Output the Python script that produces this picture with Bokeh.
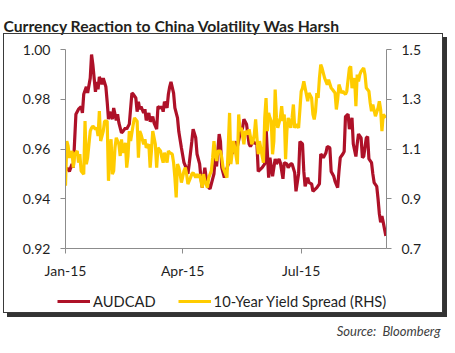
import pandas as pd
from bokeh.plotting import figure
from bokeh.layouts import column
from bokeh.models import (Range1d, LinearAxis, FixedTicker, NumeralTickFormatter,
                          DatetimeTickFormatter, Legend, LegendItem, Title, Label,
                          InlineStyleSheet)
from bokeh.embed import file_html
from bokeh.resources import INLINE

# ---------------- data ----------------
audcad_dates = [
    "2015-01-02", "2015-01-04", "2015-01-06", "2015-01-07", "2015-01-09", "2015-01-11", "2015-01-13",
    "2015-01-14", "2015-01-15", "2015-01-17", "2015-01-18", "2015-01-20", "2015-01-21", "2015-01-22",
    "2015-01-24", "2015-01-25", "2015-01-26", "2015-01-27", "2015-01-29", "2015-01-30", "2015-02-01",
    "2015-02-02", "2015-02-03", "2015-02-04", "2015-02-06", "2015-02-07", "2015-02-09", "2015-02-10",
    "2015-02-11", "2015-02-13", "2015-02-14", "2015-02-16", "2015-02-17", "2015-02-19", "2015-02-21",
    "2015-02-22", "2015-02-24", "2015-02-25", "2015-02-26", "2015-02-27", "2015-02-28", "2015-03-02",
    "2015-03-03", "2015-03-04", "2015-03-06", "2015-03-07", "2015-03-09", "2015-03-10", "2015-03-12",
    "2015-03-13", "2015-03-15", "2015-03-16", "2015-03-17", "2015-03-18", "2015-03-20", "2015-03-21",
    "2015-03-22", "2015-03-23", "2015-03-25", "2015-03-26", "2015-03-28", "2015-03-29", "2015-03-31",
    "2015-04-02", "2015-04-04", "2015-04-05", "2015-04-06", "2015-04-08", "2015-04-09", "2015-04-11",
    "2015-04-12", "2015-04-14", "2015-04-15", "2015-04-16", "2015-04-18", "2015-04-19", "2015-04-21",
    "2015-04-22", "2015-04-23", "2015-04-25", "2015-04-26", "2015-04-27", "2015-04-29", "2015-04-30",
    "2015-05-01", "2015-05-03", "2015-05-06", "2015-05-07", "2015-05-09", "2015-05-11", "2015-05-13",
    "2015-05-15", "2015-05-17", "2015-05-18", "2015-05-20", "2015-05-22", "2015-05-23", "2015-05-25",
    "2015-05-26", "2015-05-28", "2015-05-29", "2015-05-31", "2015-06-01", "2015-06-03", "2015-06-04",
    "2015-06-06", "2015-06-07", "2015-06-09", "2015-06-11", "2015-06-12", "2015-06-14", "2015-06-15",
    "2015-06-17", "2015-06-18", "2015-06-20", "2015-06-21", "2015-06-23", "2015-06-24", "2015-06-26",
    "2015-06-27", "2015-06-29", "2015-06-30", "2015-07-02", "2015-07-03", "2015-07-04", "2015-07-06",
    "2015-07-07", "2015-07-09", "2015-07-10", "2015-07-12", "2015-07-13", "2015-07-15", "2015-07-16",
    "2015-07-18", "2015-07-20", "2015-07-21", "2015-07-23", "2015-07-24", "2015-07-26", "2015-07-27",
    "2015-07-29", "2015-07-30", "2015-07-31", "2015-08-02", "2015-08-03", "2015-08-04", "2015-08-06",
    "2015-08-07", "2015-08-09", "2015-08-10", "2015-08-12", "2015-08-13", "2015-08-14", "2015-08-16",
    "2015-08-17", "2015-08-18", "2015-08-20", "2015-08-21", "2015-08-22", "2015-08-24", "2015-08-25",
    "2015-08-26", "2015-08-28", "2015-08-29", "2015-08-30", "2015-08-31", "2015-09-01", "2015-09-02",
    "2015-09-04",
]
audcad = [
    0.9525, 0.951, 0.954, 0.9525, 0.974, 0.976, 0.977,
    0.9745, 0.982, 0.985, 0.9825, 0.9885, 0.998, 0.994,
    0.983, 0.987, 0.984, 0.989, 0.986, 0.9885, 0.985,
    0.979, 0.972, 0.975, 0.972, 0.9765, 0.9715, 0.974,
    0.9705, 0.9665, 0.967, 0.9685, 0.968, 0.970, 0.9825,
    0.982, 0.9805, 0.975, 0.979, 0.976, 0.977, 0.9745,
    0.976, 0.9715, 0.9745, 0.971, 0.973, 0.9705, 0.968,
    0.977, 0.9765, 0.977, 0.975, 0.979, 0.9765, 0.982,
    0.985, 0.987, 0.9825, 0.9765, 0.9725, 0.967, 0.9605,
    0.9545, 0.952, 0.950, 0.954, 0.963, 0.968, 0.9645,
    0.958, 0.954, 0.9485, 0.9445, 0.9525, 0.9485, 0.9445,
    0.944, 0.946, 0.950, 0.9565, 0.953, 0.966, 0.963,
    0.9525, 0.9485, 0.954, 0.9605, 0.958, 0.963, 0.961,
    0.966, 0.9685, 0.972, 0.970, 0.962, 0.961, 0.963,
    0.9625, 0.962, 0.951, 0.952, 0.9525, 0.954, 0.969,
    0.9485, 0.9565, 0.949, 0.956, 0.954, 0.956, 0.9545,
    0.948, 0.9545, 0.954, 0.9525, 0.954, 0.954, 0.9505,
    0.943, 0.950, 0.963, 0.962, 0.951, 0.945, 0.9485,
    0.9465, 0.946, 0.943, 0.944, 0.9445, 0.946, 0.958,
    0.9565, 0.9585, 0.961, 0.9605, 0.951, 0.949, 0.947,
    0.9445, 0.951, 0.9565, 0.958, 0.959, 0.973, 0.974,
    0.968, 0.9725, 0.962, 0.957, 0.962, 0.966, 0.9645,
    0.9565, 0.957, 0.9645, 0.965, 0.956, 0.9545, 0.950,
    0.9465, 0.945, 0.940, 0.934, 0.9305, 0.933, 0.9305,
    0.925,
]

spread_dates = [
    "2015-01-01", "2015-01-02", "2015-01-03", "2015-01-04", "2015-01-06", "2015-01-07", "2015-01-08",
    "2015-01-10", "2015-01-11", "2015-01-12", "2015-01-13", "2015-01-15", "2015-01-16", "2015-01-17",
    "2015-01-18", "2015-01-19", "2015-01-20", "2015-01-21", "2015-01-22", "2015-01-24", "2015-01-25",
    "2015-01-26", "2015-01-27", "2015-01-28", "2015-01-30", "2015-01-31", "2015-02-02", "2015-02-03",
    "2015-02-04", "2015-02-05", "2015-02-06", "2015-02-07", "2015-02-08", "2015-02-09", "2015-02-11",
    "2015-02-12", "2015-02-13", "2015-02-14", "2015-02-16", "2015-02-17", "2015-02-18", "2015-02-19",
    "2015-02-20", "2015-02-22", "2015-02-23", "2015-02-25", "2015-02-26", "2015-02-27", "2015-02-28",
    "2015-03-02", "2015-03-03", "2015-03-04", "2015-03-06", "2015-03-07", "2015-03-08", "2015-03-09",
    "2015-03-11", "2015-03-12", "2015-03-13", "2015-03-15", "2015-03-16", "2015-03-17", "2015-03-18",
    "2015-03-20", "2015-03-21", "2015-03-22", "2015-03-24", "2015-03-25", "2015-03-26", "2015-03-27",
    "2015-03-28", "2015-03-29", "2015-03-30", "2015-03-31", "2015-04-02", "2015-04-03", "2015-04-04",
    "2015-04-05", "2015-04-07", "2015-04-08", "2015-04-09", "2015-04-11", "2015-04-12", "2015-04-13",
    "2015-04-14", "2015-04-16", "2015-04-17", "2015-04-18", "2015-04-20", "2015-04-21", "2015-04-23",
    "2015-04-24", "2015-04-25", "2015-04-26", "2015-04-27", "2015-04-28", "2015-04-30", "2015-05-01",
    "2015-05-02", "2015-05-05", "2015-05-07", "2015-05-08", "2015-05-10", "2015-05-11", "2015-05-13",
    "2015-05-14", "2015-05-15", "2015-05-16", "2015-05-18", "2015-05-19", "2015-05-21", "2015-05-22",
    "2015-05-24", "2015-05-25", "2015-05-26", "2015-05-27", "2015-05-28", "2015-05-29", "2015-05-30",
    "2015-06-01", "2015-06-02", "2015-06-03", "2015-06-04", "2015-06-05", "2015-06-06", "2015-06-07",
    "2015-06-08", "2015-06-09", "2015-06-10", "2015-06-11", "2015-06-12", "2015-06-13", "2015-06-15",
    "2015-06-16", "2015-06-17", "2015-06-18", "2015-06-19", "2015-06-20", "2015-06-21", "2015-06-23",
    "2015-06-24", "2015-06-25", "2015-06-26", "2015-06-27", "2015-06-29", "2015-07-01", "2015-07-02",
    "2015-07-03", "2015-07-04", "2015-07-06", "2015-07-07", "2015-07-09", "2015-07-10", "2015-07-11",
    "2015-07-12", "2015-07-13", "2015-07-14", "2015-07-15", "2015-07-16", "2015-07-17", "2015-07-19",
    "2015-07-20", "2015-07-21", "2015-07-22", "2015-07-24", "2015-07-25", "2015-07-27", "2015-07-28",
    "2015-07-29", "2015-07-30", "2015-08-01", "2015-08-02", "2015-08-04", "2015-08-05", "2015-08-07",
    "2015-08-08", "2015-08-09", "2015-08-11", "2015-08-12", "2015-08-13", "2015-08-14", "2015-08-15",
    "2015-08-16", "2015-08-17", "2015-08-18", "2015-08-19", "2015-08-20", "2015-08-22", "2015-08-23",
    "2015-08-24", "2015-08-25", "2015-08-27", "2015-08-29", "2015-08-30", "2015-08-31", "2015-09-01",
    "2015-09-02", "2015-09-04",
]
spread = [
    0.952, 1.132, 1.112, 1.065, 1.092, 1.025, 1.079,
    1.092, 1.045, 1.079, 1.012, 0.999, 1.212, 1.039,
    1.065, 1.119, 1.172, 1.185, 1.192, 1.179, 1.185,
    1.152, 1.252, 1.132, 1.172, 1.212, 1.212, 0.972,
    1.092, 1.139, 0.999, 1.012, 1.105, 1.145, 1.119,
    1.072, 1.139, 1.085, 1.125, 1.025, 1.072, 1.172,
    1.132, 1.199, 1.225, 1.212, 1.065, 1.172, 1.159,
    1.119, 1.139, 1.105, 1.119, 1.025, 1.092, 1.172,
    1.119, 1.025, 1.105, 1.092, 1.065, 1.045, 1.085,
    1.045, 1.092, 1.085, 1.079, 1.045, 0.985, 0.905,
    1.039, 1.025, 0.999, 0.965, 1.012, 1.025, 0.999,
    0.959, 0.985, 0.999, 1.005, 0.985, 0.999, 0.985,
    0.999, 0.945, 0.999, 0.972, 0.945, 0.985, 1.012,
    1.065, 1.132, 1.079, 1.052, 1.092, 1.092, 1.065,
    1.025, 0.985, 1.245, 1.039, 1.132, 1.105, 1.039,
    1.239, 1.172, 1.185, 1.119, 1.172, 1.159, 1.179,
    1.119, 1.132, 1.159, 1.219, 1.145, 1.079, 1.132,
    1.072, 1.045, 1.225, 1.305, 1.172, 1.245, 1.225,
    1.212, 1.079, 1.132, 1.339, 1.225, 1.185, 1.225,
    1.272, 1.212, 1.239, 1.059, 1.172, 1.225, 1.185,
    1.225, 1.279, 1.185, 1.199, 1.185, 1.332, 1.345,
    1.372, 1.345, 1.292, 1.325, 1.305, 1.239, 1.219,
    1.252, 1.325, 1.305, 1.385, 1.439, 1.425, 1.385,
    1.372, 1.359, 1.379, 1.345, 1.339, 1.325, 1.259,
    1.299, 1.359, 1.325, 1.332, 1.319, 1.332, 1.425,
    1.432, 1.345, 1.385, 1.272, 1.399, 1.372, 1.399,
    1.412, 1.419, 1.425, 1.399, 1.345, 1.332, 1.285,
    1.252, 1.279, 1.232, 1.265, 1.292, 1.259, 1.172,
    1.239, 1.225,
]

left_ticks = [0.92, 0.94, 0.96, 0.98, 1.00]
right_ticks = [0.7, 0.9, 1.1, 1.3, 1.5]
x_tick_dates = ["2015-01-01", "2015-04-01", "2015-07-01"]

title_text = "Currency Reaction to China Volatility Was Harsh"
source_text = "Source:\u00a0 Bloomberg"
series_names = ["AUDCAD", "10-Year Yield Spread (RHS)"]

RED = "#AE1128"
YELLOW = "#FFCC00"
FONT = "Lato"
AX = "#8c8c8c"
TXT = "#1f1f1f"

# ---------------- main chart ----------------
W = 455
H_MAIN, H_FOOT = 290, 63
FL, FR, FT, FB = 65, 386, 48, 248   # frame edges (px) inside the main chart

x0 = pd.Timestamp("2015-01-01")
x1 = pd.Timestamp("2015-09-04 12:00")

fig = figure(width=W, height=H_MAIN, output_backend="svg", toolbar_location=None,
             x_axis_type="datetime",
             x_range=Range1d(x0, x1), y_range=Range1d(0.92, 1.00),
             min_border_left=FL, min_border_right=W - FR,
             min_border_top=FT, min_border_bottom=H_MAIN - FB)
fig.frame_align = False
fig.xgrid.visible = False
fig.ygrid.visible = False
fig.outline_line_color = None
fig.background_fill_color = "white"
fig.border_fill_color = "white"
fig.extra_y_ranges = {"rhs": Range1d(0.7, 1.5)}

def style_axis(ax):
    ax.axis_line_color = AX
    ax.major_tick_line_color = AX
    ax.minor_tick_line_color = None
    ax.major_tick_out = 5
    ax.major_tick_in = 0
    ax.major_label_text_font = FONT
    ax.major_label_text_font_size = "14px"
    ax.major_label_text_color = TXT
    ax.major_label_standoff = 10

yl = fig.yaxis[0]
yl.ticker = FixedTicker(ticks=left_ticks)
yl.formatter = NumeralTickFormatter(format="0.00")
style_axis(yl)

yr = LinearAxis(y_range_name="rhs", ticker=FixedTicker(ticks=right_ticks),
                formatter=NumeralTickFormatter(format="0.0"))
style_axis(yr)
fig.add_layout(yr, "right")

xa = fig.xaxis[0]
xa.ticker = FixedTicker(ticks=[pd.Timestamp(d).value // 10**6 for d in x_tick_dates])
fmt = "%b-%y"
xa.formatter = DatetimeTickFormatter(milliseconds=fmt, seconds=fmt, minsec=fmt, minutes=fmt,
                                     hourmin=fmt, hours=fmt, days=fmt, months=fmt, years=fmt)
style_axis(xa)
xa.major_label_standoff = 8

fig.title = Title(text=title_text, text_font=FONT, text_font_style="bold",
                  text_font_size="15.7px", text_color="#231f20", align="left",
                  offset=-62, standoff=29)

r_red = fig.line(pd.to_datetime(audcad_dates), audcad, line_color=RED, line_width=3.2)
r_yel = fig.line(pd.to_datetime(spread_dates), spread, y_range_name="rhs",
                 line_color=YELLOW, line_width=3.2)

# ---------------- footer: legend + source ----------------
foot = figure(width=W, height=H_FOOT, output_backend="svg", toolbar_location=None,
              x_axis_location=None, y_axis_location=None,
              min_border_left=0, min_border_right=0, min_border_top=0, min_border_bottom=0)
foot.frame_align = False
foot.xgrid.visible = False
foot.ygrid.visible = False
foot.outline_line_color = None
foot.background_fill_color = "white"
foot.border_fill_color = "white"

# legend keys (a single missing value each, so nothing is drawn in the footer itself)
nan = float("nan")
key_red = foot.line(x=[nan], y=[nan], line_color=RED, line_width=3.2)
key_yel = foot.line(x=[nan], y=[nan], line_color=YELLOW, line_width=3.2)

legend = Legend(items=[LegendItem(label=series_names[0], renderers=[key_red]),
                       LegendItem(label=series_names[1], renderers=[key_yel])],
                orientation="horizontal", location=(57, 42),
                glyph_width=33, glyph_height=20, label_standoff=3, spacing=22,
                padding=0, margin=0, border_line_color=None, background_fill_alpha=0,
                label_text_font=FONT, label_text_font_size="14.7px", label_text_color=TXT,
                label_height=20)
foot.add_layout(legend, "center")

foot.add_layout(Label(x=440, y=23, x_units="screen", y_units="screen", text=source_text,
                      text_font=FONT, text_font_style="italic", text_font_size="13px",
                      text_color="#404040", text_align="right", text_baseline="middle"))

# outer box with drop shadow around chart + legend
box_css = InlineStyleSheet(css="""
:host::after {
  content: ""; position: absolute; left: 3px; top: 33px; width: 440px; height: 280px;
  box-sizing: border-box; border: 1.5px solid #3a3a3a; box-shadow: 4px 4px 0 0 #333333;
  pointer-events: none;
}
""")

p = column(fig, foot, spacing=0, stylesheets=[box_css])

open("out.html", "w").write(file_html(p, INLINE))
